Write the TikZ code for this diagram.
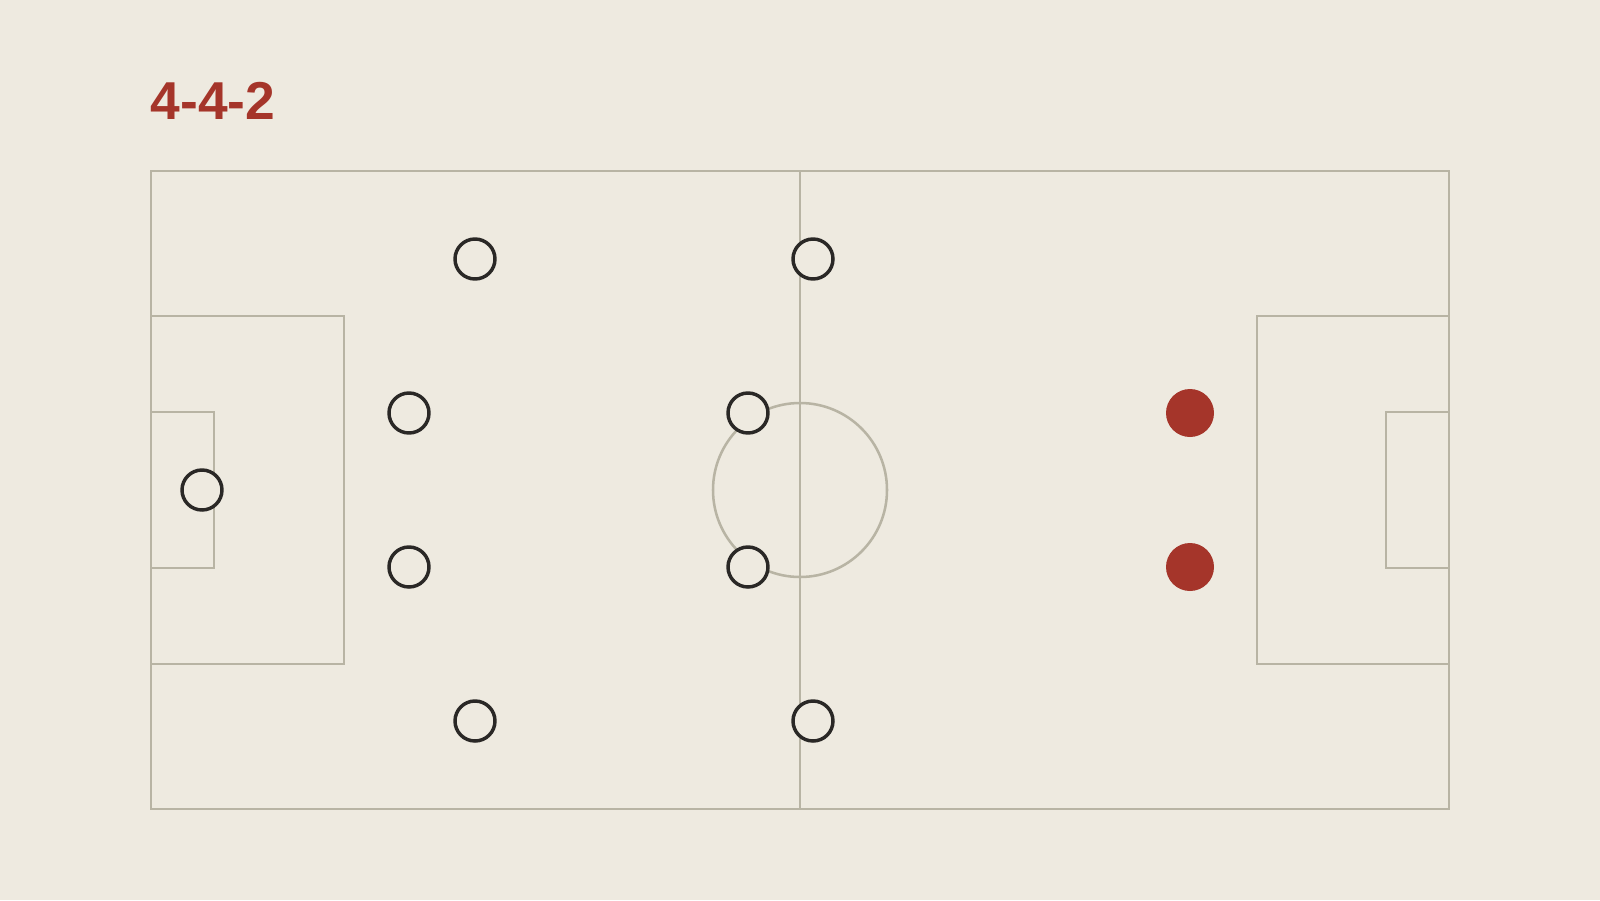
\documentclass[tikz,border=0pt]{standalone}
\usepackage{fontspec}
\newfontfamily\titlefont{Liberation Sans}
\definecolor{bgc}{HTML}{EEEAE0}
\definecolor{linec}{HTML}{B8B4A4}
\definecolor{playerc}{HTML}{2A2826}
\definecolor{redc}{HTML}{A5352A}
\tikzset{
  pitchline/.style={draw=linec, line width=2.1pt},
  player/.style={circle, draw=playerc, fill=bgc, line width=2.6pt, minimum size=30pt, inner sep=0pt},
  forward/.style={circle, fill=redc, minimum size=36pt, inner sep=0pt},
}
\begin{document}
\begin{tikzpicture}[x=0.75pt,y=-0.75pt]
\fill[bgc] (0,0) rectangle (1600,900);
\useasboundingbox (0,0) rectangle (1600,900);
\node[anchor=base west, inner sep=0pt, text=redc, font=\titlefont\bfseries\fontsize{40pt}{40pt}\selectfont] (title) at (150.5,119) {4-4-2};
% pitch
\draw[pitchline] (151,171) rectangle (1449,809);
\coordinate (htop) at (800,171);
\coordinate (hbot) at (800,809);
\draw[pitchline] (htop) -- (hbot);
\coordinate (cc) at (800,490);
\draw[draw=linec, line width=1.9pt] (cc) circle[radius=87];
% left boxes
\draw[pitchline] (151,316) -- (344,316) -- (344,664) -- (151,664);
\draw[pitchline] (151,412) -- (214,412) -- (214,568) -- (151,568);
% right boxes
\draw[pitchline] (1449,316) -- (1257,316) -- (1257,664) -- (1449,664);
\draw[pitchline] (1449,412) -- (1386,412) -- (1386,568) -- (1449,568);
% players
\node[player] (gk) at (202,490) {};
\node[player] (d1) at (475,259) {};
\node[player] (d2) at (409,413) {};
\node[player] (d3) at (409,567) {};
\node[player] (d4) at (475,721) {};
\node[player] (m1) at (813,259) {};
\node[player] (m2) at (748,413) {};
\node[player] (m3) at (748,567) {};
\node[player] (m4) at (813,721) {};
\node[forward] (f1) at (1190,413) {};
\node[forward] (f2) at (1190,567) {};
\end{tikzpicture}
\end{document}
